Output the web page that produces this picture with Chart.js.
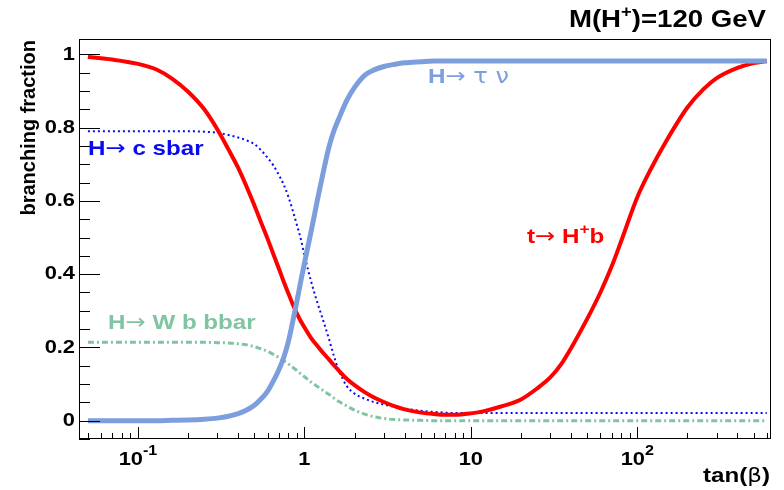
<!DOCTYPE html>
<html>
<head>
<meta charset="utf-8">
<script src="https://cdn.jsdelivr.net/npm/chart.js@4.4.1/dist/chart.umd.min.js"></script>
<style>
    html, body { margin: 0; padding: 0; background: #fff; }
    #wrap { width: 784px; height: 490px; }
</style>
</head>
<body>
<div id="wrap"><canvas id="myChart" width="784" height="490"></canvas></div>
<script>
"use strict";

// tan(beta) sampling points
const tanBeta = [0.05, 0.07, 0.1, 0.13, 0.16, 0.2, 0.25, 0.3, 0.35, 0.4,
    0.45, 0.5, 0.55, 0.6, 0.65, 0.7, 0.75, 0.8, 0.85, 0.9,
    0.95, 1, 1.1, 1.2, 1.3, 1.4, 1.5, 1.6, 1.8, 2,
    2.3, 2.6, 3, 3.5, 4, 5, 6, 7, 8, 10,
    12, 15, 20, 25, 30, 35, 40, 50, 60, 70,
    80, 100, 120, 150, 200, 250, 300, 400, 500, 600];

// t -> H+ b
const brTopHb = [0.993, 0.986, 0.974, 0.958, 0.934, 0.898, 0.85, 0.795, 0.74, 0.69,
    0.638, 0.588, 0.54, 0.497, 0.455, 0.417, 0.38, 0.348, 0.318, 0.293,
    0.272, 0.255, 0.225, 0.203, 0.184, 0.168, 0.152, 0.138, 0.114, 0.097,
    0.078, 0.064, 0.051, 0.039, 0.031, 0.022, 0.018, 0.016, 0.016, 0.02,
    0.026, 0.038, 0.058, 0.088, 0.118, 0.155, 0.198, 0.278, 0.35, 0.42,
    0.49, 0.61, 0.685, 0.765, 0.855, 0.905, 0.935, 0.963, 0.976, 0.982];

// H -> tau nu
const brTauNu = [0, 0, 0, 0, 0.001, 0.002, 0.004, 0.007, 0.012, 0.019,
    0.029, 0.042, 0.06, 0.08, 0.108, 0.138, 0.172, 0.215, 0.27, 0.325,
    0.38, 0.43, 0.52, 0.605, 0.68, 0.745, 0.79, 0.822, 0.875, 0.91,
    0.943, 0.957, 0.967, 0.973, 0.977, 0.98, 0.982, 0.982, 0.982, 0.982,
    0.982, 0.982, 0.982, 0.982, 0.982, 0.982, 0.982, 0.982, 0.982, 0.982,
    0.982, 0.982, 0.982, 0.982, 0.982, 0.982, 0.982, 0.982, 0.982, 0.982];

// H -> c sbar
const brCsbar = [0.79, 0.79, 0.79, 0.79, 0.79, 0.79, 0.789, 0.786, 0.78, 0.773,
    0.765, 0.755, 0.738, 0.718, 0.697, 0.672, 0.645, 0.612, 0.574, 0.535,
    0.497, 0.452, 0.378, 0.32, 0.272, 0.225, 0.178, 0.14, 0.094, 0.074,
    0.06, 0.051, 0.044, 0.038, 0.033, 0.027, 0.024, 0.022, 0.021, 0.021,
    0.021, 0.021, 0.021, 0.021, 0.021, 0.021, 0.021, 0.021, 0.021, 0.021,
    0.021, 0.021, 0.021, 0.021, 0.021, 0.021, 0.021, 0.021, 0.021, 0.021];

// H -> W b bbar
const brWbbbar = [0.214, 0.214, 0.214, 0.214, 0.214, 0.214, 0.214, 0.213, 0.212, 0.21,
    0.207, 0.202, 0.196, 0.189, 0.181, 0.173, 0.164, 0.155, 0.146, 0.137,
    0.128, 0.12, 0.105, 0.093, 0.082, 0.072, 0.062, 0.053, 0.04, 0.029,
    0.018, 0.011, 0.006, 0.003, 0.002, 0.001, 0, 0, 0, 0,
    0, 0, 0, 0, 0, 0, 0, 0, 0, 0,
    0, 0, 0, 0, 0, 0, 0, 0, 0, 0];

const xMajorTicks = [0.1, 1, 10, 100];
const xTickBase = ["10", "1", "10", "10"];
const xTickExp = ["-1", "", "", "2"];
const yMajorTicks = [0, 0.2, 0.4, 0.6, 0.8, 1];
const yTickLabels = ["0", "0.2", "0.4", "0.6", "0.8", "1"];

const SANS = "'Liberation Sans', Arial, sans-serif";
const SYM = "'DejaVu Sans', sans-serif";
const STRETCH = 1.15;

const colRed = "#ff0000";
const colTau = "#7c9edd";
const colCs = "#0a0af0";
const colWbb = "#80c4a2";

function points(ys) {
    return tanBeta.map(function (x, i) { return { x: x, y: ys[i] }; });
}

function drawRich(ctx, segs, x, y, align, sx) {
    let total = 0;
    segs.forEach(function (s) {
        ctx.font = s.font;
        s.w = ctx.measureText(s.text).width * sx;
        total += s.w;
    });
    let cx = x;
    if (align === "right") cx = x - total;
    if (align === "center") cx = x - total / 2;
    segs.forEach(function (s) {
        ctx.save();
        ctx.font = s.font;
        ctx.fillStyle = s.color || "#000";
        ctx.textAlign = "left";
        ctx.textBaseline = "alphabetic";
        ctx.translate(cx, y + (s.dy || 0));
        ctx.scale(sx, 1);
        ctx.fillText(s.text, 0, 0);
        ctx.restore();
        cx += s.w;
    });
}

const rootFrame = {
    id: "rootFrame",
    afterDatasetsDraw: function (chart) {
        let ctx = chart.ctx;
        let a = chart.chartArea;
        let xs = chart.scales.x;
        let ys = chart.scales.y;

        ctx.save();
        ctx.strokeStyle = "#000";
        ctx.lineWidth = 1;
        ctx.strokeRect(a.left + 0.5, a.top + 0.5, a.right - a.left - 1, a.bottom - a.top - 1);

        // y ticks, minor every 0.05
        ctx.beginPath();
        for (let k = -1; k <= 20; k++) {
            let v = k * 0.05;
            let py = Math.round(ys.getPixelForValue(v)) + 0.5;
            let len = (k % 4 === 0) ? 21 : 11;
            ctx.moveTo(a.left, py);
            ctx.lineTo(a.left + len, py);
        }
        // x ticks, log minors
        for (let e = -2; e <= 2; e++) {
            for (let m = 1; m <= 9; m++) {
                let v = m * Math.pow(10, e);
                if (v < xs.min || v > xs.max) continue;
                let px = Math.round(xs.getPixelForValue(v)) + 0.5;
                let len = (m === 1) ? 12 : 6;
                ctx.moveTo(px, a.bottom);
                ctx.lineTo(px, a.bottom - len);
            }
        }
        ctx.stroke();

        // y labels
        ctx.fillStyle = "#000";
        ctx.font = "bold 19px " + SANS;
        ctx.textAlign = "right";
        ctx.textBaseline = "middle";
        yMajorTicks.forEach(function (v, i) {
            ctx.save();
            ctx.translate(75, ys.getPixelForValue(v));
            ctx.scale(STRETCH, 1);
            ctx.fillText(yTickLabels[i], 0, 0);
            ctx.restore();
        });

        // x labels
        xMajorTicks.forEach(function (v, i) {
            let px = xs.getPixelForValue(v);
            let segs = [{ text: xTickBase[i], font: "bold 19px " + SANS }];
            if (xTickExp[i]) segs.push({ text: xTickExp[i], font: "bold 14px " + SANS, dy: -10 });
            drawRich(ctx, segs, px, 465, "center", STRETCH);
        });

        // axis titles
        drawRich(ctx, [
            { text: "tan(", font: "bold 21px " + SANS },
            { text: "\u03b2", font: "20px " + SYM },
            { text: ")", font: "bold 21px " + SANS }
        ], 770, 482, "right", STRETCH);

        ctx.save();
        ctx.translate(29, 40);
        ctx.rotate(-Math.PI / 2);
        ctx.font = "bold 20px " + SANS;
        ctx.textAlign = "right";
        ctx.textBaseline = "middle";
        ctx.fillText("branching fraction", 0, 0);
        ctx.restore();

        // title
        drawRich(ctx, [
            { text: "M(H", font: "bold 24px " + SANS },
            { text: "+", font: "bold 16px " + SANS, dy: -10 },
            { text: ")=120 GeV", font: "bold 24px " + SANS }
        ], 766, 27, "right", STRETCH);

        // curve labels
        let fb = "bold 21px " + SANS;
        let fa = "21px " + SYM;
        drawRich(ctx, [
            { text: "H", font: fb, color: colTau },
            { text: "\u2192 \u03c4 \u03bd", font: fa, color: colTau }
        ], 428, 83, "left", STRETCH);
        drawRich(ctx, [
            { text: "H", font: fb, color: colCs },
            { text: "\u2192", font: fa, color: colCs },
            { text: " c sbar", font: fb, color: colCs }
        ], 88, 155, "left", STRETCH);
        drawRich(ctx, [
            { text: "t", font: fb, color: colRed },
            { text: "\u2192", font: fa, color: colRed },
            { text: " H", font: fb, color: colRed },
            { text: "+", font: "bold 15px " + SANS, color: colRed, dy: -9 },
            { text: "b", font: fb, color: colRed }
        ], 527, 243, "left", STRETCH);
        drawRich(ctx, [
            { text: "H", font: fb, color: colWbb },
            { text: "\u2192", font: fa, color: colWbb },
            { text: " W b bbar", font: fb, color: colWbb }
        ], 108, 329, "left", STRETCH);
        ctx.restore();
    }
};

let chart = new Chart(document.getElementById("myChart"), {
    type: "line",
    data: {
        datasets: [
            { label: "H -> tau nu", data: points(brTauNu), borderColor: colTau, borderWidth: 5 },
            { label: "t -> H+ b", data: points(brTopHb), borderColor: colRed, borderWidth: 4 },
            { label: "H -> W b bbar", data: points(brWbbbar), borderColor: colWbb, borderWidth: 3, borderDash: [6, 3, 2, 3] },
            { label: "H -> c sbar", data: points(brCsbar), borderColor: colCs, borderWidth: 2, borderDash: [2, 3] }
        ]
    },
    options: {
        responsive: false,
        animation: false,
        devicePixelRatio: 1,
        layout: { padding: { left: 79, top: 39, right: 13, bottom: 51 } },
        elements: {
            point: { radius: 0 },
            line: { cubicInterpolationMode: "monotone", fill: false }
        },
        plugins: { legend: { display: false }, tooltip: { enabled: false } },
        scales: {
            x: { type: "logarithmic", min: 0.0442, max: 636, display: false },
            y: { type: "linear", min: -0.05, max: 1.042, display: false }
        }
    },
    plugins: [rootFrame]
});
</script>
</body>
</html>
